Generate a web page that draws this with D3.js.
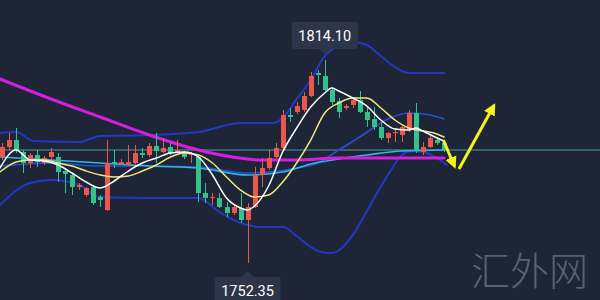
<!DOCTYPE html>
<html><head><meta charset="utf-8">
<script src="https://cdn.jsdelivr.net/npm/d3@7"></script>
<style>html,body{margin:0;padding:0;background:#1e2536;overflow:hidden}</style>
</head><body>
<svg id="c" width="600" height="300"></svg>
<script>
// ---- candle data (OHLC, one per bar) ----
const openP  = [1784.59,1787.63,1789.76,1786.11,1782.76,1785.20,1782.76,1784.59,1784.59,1780.33,
                1779.11,1775.46,1773.03,1775.46,1772.42,1768.47,1783.07,1782.46,1782.16,1782.76,
                1785.81,1785.20,1787.94,1786.11,1787.63,1785.81,1785.81,1785.20,1784.59,1773.64,
                1772.12,1772.12,1769.38,1767.56,1769.08,1765.43,1769.38,1779.11,1781.24,1784.59,
                1787.33,1797.37,1798.28,1798.89,1803.15,1810.14,1809.23,1804.97,1801.63,1799.50,
                1800.41,1801.93,1798.28,1796.15,1793.72,1790.37,1791.89,1791.28,1792.81,1797.98,
                1786.11,1787.63,1789.76,1788.85];
const highP  = [1788.85,1791.89,1793.41,1786.72,1785.81,1786.72,1784.89,1787.33,1785.81,1781.24,
                1780.03,1776.68,1775.46,1776.07,1773.03,1789.76,1786.72,1783.98,1788.24,1788.24,
                1787.33,1788.85,1791.89,1790.37,1788.85,1789.76,1786.41,1786.11,1785.20,1776.68,
                1773.64,1773.64,1770.90,1769.99,1773.64,1770.60,1781.55,1784.29,1786.72,1788.85,
                1798.89,1799.50,1801.32,1804.36,1810.45,1811.06,1814.10,1805.88,1802.54,1800.71,
                1802.84,1804.67,1799.80,1799.80,1795.24,1792.20,1793.41,1794.33,1798.89,1801.02,
                1789.16,1791.28,1790.68,1789.76];
const lowP   = [1783.68,1786.72,1785.81,1779.72,1781.24,1781.55,1782.16,1783.68,1776.98,1773.64,
                1773.03,1774.55,1772.42,1769.99,1769.38,1768.16,1781.24,1782.16,1781.85,1782.46,
                1784.29,1784.59,1782.76,1785.81,1785.20,1785.50,1783.98,1782.76,1770.90,1770.60,
                1769.99,1769.08,1766.34,1766.95,1764.52,1752.35,1769.08,1775.46,1780.63,1784.29,
                1786.72,1795.24,1797.67,1798.28,1802.84,1806.49,1804.67,1800.41,1796.45,1798.89,
                1799.50,1797.98,1793.72,1792.81,1789.76,1788.85,1789.16,1789.16,1792.20,1785.81,
                1785.20,1787.33,1788.24,1786.11];
const closeP = [1787.63,1789.76,1786.72,1782.76,1785.20,1783.07,1784.29,1786.11,1780.03,1779.42,
                1775.46,1776.07,1775.16,1770.60,1771.51,1782.76,1782.46,1783.07,1783.07,1785.81,
                1785.20,1787.94,1786.41,1787.33,1785.81,1786.72,1784.59,1785.81,1773.64,1772.12,
                1772.42,1769.38,1767.56,1769.38,1765.43,1769.38,1779.11,1781.24,1784.29,1787.33,
                1797.37,1796.76,1800.10,1803.15,1809.23,1809.54,1804.97,1801.32,1798.28,1800.10,
                1801.93,1798.28,1795.85,1793.72,1790.37,1791.89,1792.20,1793.72,1797.98,1786.72,
                1787.63,1790.37,1788.85,1786.72];

// ---- overlay lines: bar position and value readings ----
const ma5Idx = [-0.3,2,4,6,8,10,12,14,16,18,20,22,24,26,28,30,32,34,35,36,38,40,42,44,46,47,48,50,52,54,56,58,59,60,62,63];
const ma5Val = [1781.24,1786.72,1783.68,1783.37,1782.16,1779.72,1776.99,1775.16,1777.29,1780.33,1782.77,1784.29,1785.81,1786.11,1784.59,1779.11,1772.12,1769.08,1768.47,1769.68,1775.77,1786.11,1793.41,1799.80,1804.06,1805.58,1804.67,1802.54,1800.10,1795.85,1793.11,1792.80,1793.41,1792.50,1790.37,1789.46];

const ma10Idx = [-0.3,2,4,6,8,10,12,14,16,18,20,22,24,26,28,30,32,34,36,38,40,42,44,46,48,50,52,54,56,58,60,62,63];
const ma10Val = [1780.03,1783.07,1783.68,1783.68,1782.77,1781.85,1780.33,1779.11,1778.51,1778.81,1780.33,1782.16,1784.59,1785.81,1785.20,1782.77,1778.51,1774.55,1772.42,1773.03,1776.99,1782.77,1789.76,1797.98,1801.02,1802.54,1802.54,1799.50,1795.85,1793.41,1792.50,1791.59,1790.67];

const ma30Idx = [-0.3,7,14,21,28,35,40,44,48,52,57,63];
const ma30Val = [1784.59,1783.68,1782.77,1781.85,1781.24,1779.11,1780.03,1782.46,1783.98,1785.20,1786.42,1786.72];

const maLongIdx = [-0.3,7,14,21,28,32,37,42,48,55,63];
const maLongVal = [1808.32,1802.23,1796.76,1791.28,1786.72,1784.89,1783.68,1783.68,1784.29,1784.29,1784.29];

const bollMidIdx = [-0.3,7,14,21,28,35,42,45,48,51,55,58,61,63];
const bollMidVal = [1781.85,1782.77,1781.85,1781.85,1781.55,1779.72,1781.24,1782.77,1786.72,1790.67,1796.15,1797.98,1797.37,1796.15];

const bollUpIdx = [-0.3,2,4.5,11,14,21,28,34,38.6,40,42,44,46,48,50,52,54,56,58,61,63];
const bollUpVal = [1791.89,1792.20,1789.46,1789.15,1790.98,1791.28,1792.20,1794.93,1794.93,1796.45,1802.23,1808.01,1815.31,1818.36,1819.57,1818.66,1815.31,1811.97,1810.14,1810.14,1810.14];

const bollLowIdx = [-0.3,4,7,11,14,21,28,31,34,37,40,42,44,45.5,47,50,52.5,55,57,58.5,60,62,63.4];
const bollLowVal = [1769.99,1776.68,1777.59,1776.07,1772.42,1772.12,1772.12,1767.86,1764.51,1763.30,1763.30,1760.56,1757.21,1755.69,1755.39,1760.86,1769.99,1779.11,1785.20,1786.42,1786.11,1784.29,1782.16];

const lastPrice = 1786.72;
const maxLabel = "1814.10", maxIdx = 46, maxPrice = 1814.10;
const minLabel = "1752.35", minIdx = 35, minPrice = 1752.35;

// forecast arrow (bar position, price)
const arrowIdx = [62.9, 64.85, 70.55];
const arrowVal = [1789.76, 1780.03, 1801.93];

const watermark = "汇外网";

// ---- drawing ----
const W = 600, H = 300;
const svg = d3.select("#c");
svg.append("rect").attr("width", W).attr("height", H).attr("fill", "#1e2536");

const x = d3.scaleLinear().domain([0, 63]).range([2, 444]);
const y = d3.scaleLinear().domain([1752.35, 1814.10]).range([263, 60]);

// watermark
svg.append("text").attr("x", 471).attr("y", 285)
  .attr("font-family", "'Noto Sans CJK SC', sans-serif").attr("font-weight", 300)
  .attr("font-size", 39).attr("fill", "#5a6272").attr("letter-spacing", 0)
  .text(watermark);

// last price line
svg.append("line").attr("x1", 0).attr("x2", W)
  .attr("y1", y(lastPrice)).attr("y2", y(lastPrice))
  .attr("stroke", "#4d9ea3").attr("stroke-width", 1);

function drawLine(idx, val, color, width) {
  const pts = idx.map((d, i) => [d, val[i]]);
  svg.append("path").datum(pts)
    .attr("d", d3.line().x(d => x(d[0])).y(d => y(d[1])).curve(d3.curveMonotoneX))
    .attr("fill", "none").attr("stroke", color).attr("stroke-width", width)
    .attr("stroke-linejoin", "round").attr("stroke-linecap", "round");
}

drawLine(bollUpIdx, bollUpVal, "#2338c6", 2);
drawLine(bollLowIdx, bollLowVal, "#2338c6", 2);
drawLine(bollMidIdx, bollMidVal, "#2450d8", 1.6);
drawLine(ma30Idx, ma30Val, "#33b4e6", 1.6);
drawLine(maLongIdx, maLongVal, "#d420dc", 3);

// candles
const bars = d3.range(openP.length).map(i => ({i, o: openP[i], h: highP[i], l: lowP[i], c: closeP[i]}));
const up = "#e9574d", down = "#35c18c";
const g = svg.append("g");
g.selectAll("line.wick").data(bars).enter().append("line")
  .attr("x1", d => Math.round(x(d.i)) + 0.5).attr("x2", d => Math.round(x(d.i)) + 0.5)
  .attr("y1", d => y(d.h)).attr("y2", d => y(d.l))
  .attr("stroke", d => d.c >= d.o ? up : down).attr("stroke-width", 1);
g.selectAll("rect.body").data(bars).enter().append("rect")
  .attr("x", d => Math.round(x(d.i)) - 2).attr("width", 5)
  .attr("y", d => y(Math.max(d.o, d.c)))
  .attr("height", d => Math.max(1, Math.abs(y(d.o) - y(d.c))))
  .attr("fill", d => d.c >= d.o ? up : down);

drawLine(ma10Idx, ma10Val, "#f2e77e", 1.5);
drawLine(ma5Idx, ma5Val, "#ffffff", 1.5);

// arrow
const defs = svg.append("defs");
defs.append("marker").attr("id", "ah").attr("viewBox", "0 0 10 10")
  .attr("refX", 8).attr("refY", 5).attr("markerWidth", 4).attr("markerHeight", 4)
  .attr("orient", "auto").attr("markerUnits", "strokeWidth")
  .append("path").attr("d", "M0,0 L10,5 L0,10 Z").attr("fill", "#f6f21e");
for (let k = 0; k < arrowIdx.length - 1; k++) {
  const x1 = x(arrowIdx[k]), y1 = y(arrowVal[k]);
  const x2 = x(arrowIdx[k + 1]), y2 = y(arrowVal[k + 1]);
  const len = Math.hypot(x2 - x1, y2 - y1), sh = 6;
  svg.append("line").attr("x1", x1 + (k ? 2 : 0)).attr("y1", y1 - (k ? 3 : 0))
    .attr("x2", x2 - (x2 - x1) / len * sh).attr("y2", y2 - (y2 - y1) / len * sh)
    .attr("stroke", "#f6f21e").attr("stroke-width", 3)
    .attr("marker-end", "url(#ah)");
}

// max / min labels
function label(idx, price, text, above) {
  const cx = x(idx), py = y(price);
  const bw = 66, bh = 27;
  const boxTop = above ? py - 38 : py + 14;
  const grp = svg.append("g");
  grp.append("rect").attr("x", cx - bw / 2).attr("y", boxTop).attr("width", bw).attr("height", bh)
    .attr("rx", 2).attr("fill", "#2d3548");
  const tipY = above ? py - 5 : py + 8;
  const baseY = above ? boxTop + bh : boxTop;
  grp.append("path").attr("d", `M${cx - 6},${baseY} L${cx},${tipY} L${cx + 6},${baseY} Z`).attr("fill", "#2d3548");
  grp.append("text").attr("x", cx).attr("y", boxTop + bh / 2 + 5)
    .attr("text-anchor", "middle").attr("font-family", "Roboto, 'DejaVu Sans', sans-serif")
    .attr("font-size", 14.5).attr("fill", "#ffffff").text(text);
}
label(maxIdx, maxPrice, maxLabel, true);
label(minIdx, minPrice, minLabel, false);
</script>
</body></html>
